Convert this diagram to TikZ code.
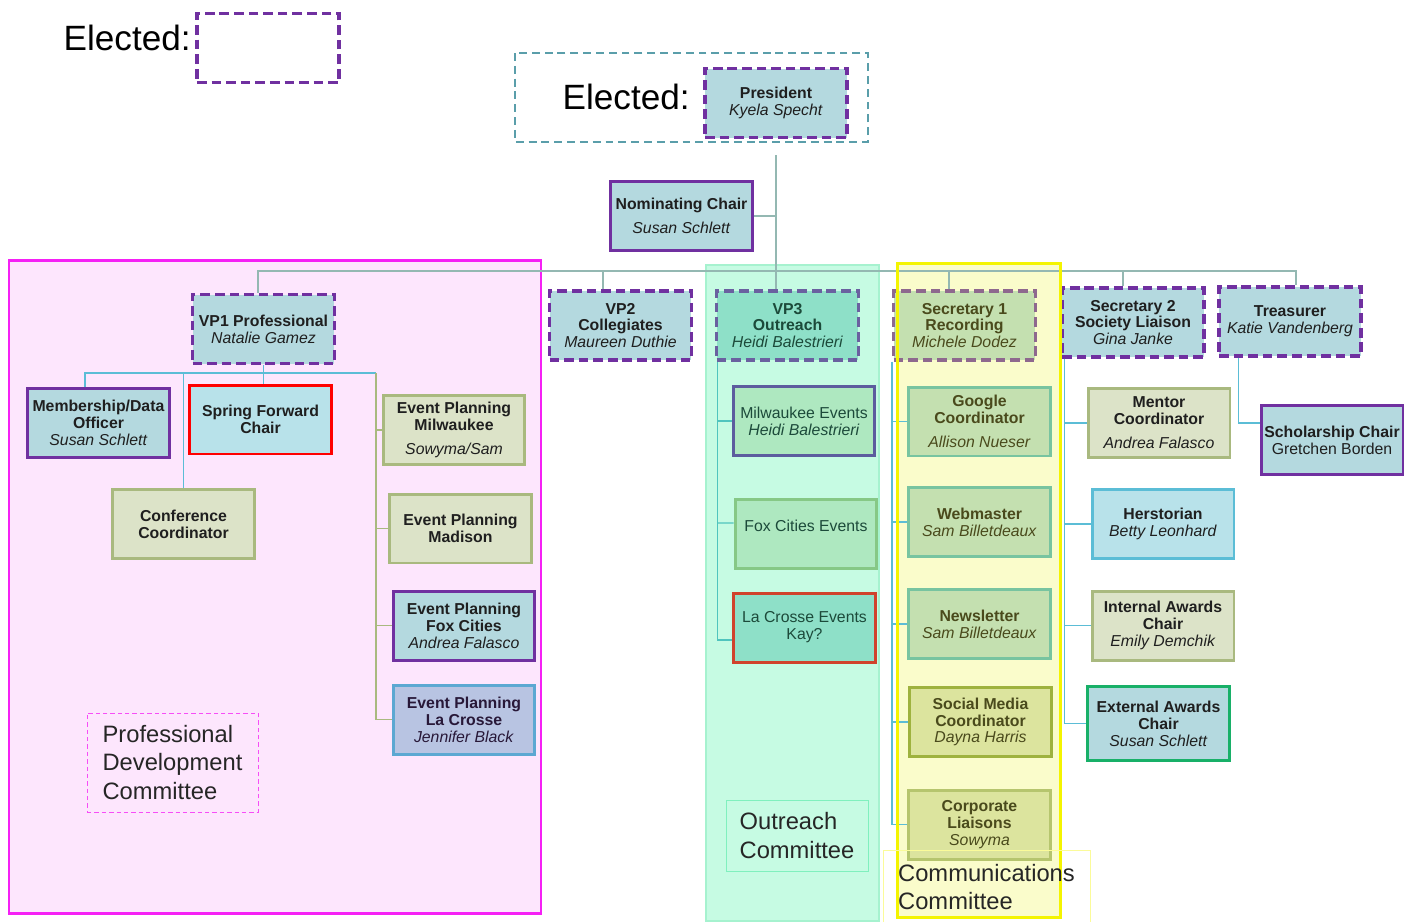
\documentclass[tikz,border=0pt]{standalone}
\usepackage{fontspec}
\setmainfont{Liberation Sans}
\definecolor{postblue}{HTML}{B4D9DF}
\definecolor{postpurple}{HTML}{7030A0}
\definecolor{paleblue}{HTML}{B8E2EA}
\definecolor{olivefill}{HTML}{DCE3C8}
\definecolor{oliveline}{HTML}{A9B97F}
\definecolor{pinkfill}{HTML}{FDE6FD}
\definecolor{pinkline}{HTML}{F520F5}
\definecolor{mintfill}{HTML}{C6FBE3}
\definecolor{mintline}{HTML}{A6F2CF}
\definecolor{lemonfill}{HTML}{FAFCCB}
\definecolor{lemonline}{HTML}{F4F400}
\definecolor{sagefill}{HTML}{C4E0B0}
\definecolor{sageline}{HTML}{78C4A0}
\definecolor{limefill}{HTML}{DCE49E}
\definecolor{limeline}{HTML}{9EB23E}
\definecolor{jadefill}{HTML}{8EE0C8}
\definecolor{leaffill}{HTML}{AEE8C0}
\definecolor{treeline}{HTML}{94B8B2}
\definecolor{skyline}{HTML}{5BBDD6}
\definecolor{darkolive}{HTML}{4A4A1C}
\definecolor{darkjade}{HTML}{1C4A3A}

\begin{document}
\begin{tikzpicture}[x=0.02cm, y=-0.02cm,
   post/.style={rectangle, draw=postpurple, line width=1.7pt, fill=postblue,
      minimum width=2.84cm, minimum height=1.38cm, inner sep=1pt, align=center,
      text=black!88, font=\fontsize{9}{9.6}\selectfont},
   elect/.style={post, line width=1.9pt, dash pattern=on 5.5pt off 2.8pt},
   olive/.style={post, draw=oliveline, fill=olivefill},
   sage/.style={post, draw=sageline, fill=sagefill, text=darkolive},
   committee/.style={align=left, font=\fontsize{13.5}{16.2}\selectfont, text=black!85},
   link/.style={draw=treeline, line width=0.8pt},
   bluelink/.style={draw=skyline, line width=0.8pt},
   olivelink/.style={draw=oliveline, line width=0.8pt},
   teallink/.style={draw={rgb,255:red,80;green,196;blue,190}, line width=0.8pt}]

         \useasboundingbox (0,0) rectangle (1411,921);

         % committee areas
         \draw[draw=pinkline, line width=1.7pt, fill=pinkfill] (9,260) rectangle (541,913);
         \draw[draw=mintline, line width=0.8pt, fill=mintfill] (706,265) rectangle (879,921);
         \fill[lemonfill] (897,263) rectangle (1060,917);

         % elected
         \node(el1) at (191,38) [anchor=east, inner sep=0, font=\fontsize{20}{24}\selectfont]{Elected:};
         \node(vacant) at (268,48) [elect, fill=white]{};
         \draw[draw={rgb,255:red,90;green,158;blue,170}, line width=0.6pt, dash pattern=on 4.5pt off 2.8pt] (515,53) rectangle (868,142);
         \node(el2) at (690,97) [anchor=east, inner sep=0, font=\fontsize{20}{24}\selectfont]{Elected:};
         \node(pres) at (776,103) [elect]{\textbf{President}\\\textit{Kyela Specht}};
         \node(nom) at (681.5,216) [post]{\textbf{Nominating Chair}\\[4pt]\textit{Susan Schlett}};

         \node(vp1) at (263.5,329) [elect]{\textbf{VP1 Professional}\\\textit{Natalie Gamez}};
         \node(vp2) at (620.5,325.5) [elect]{\textbf{VP2}\\\textbf{Collegiates}\\\textit{Maureen Duthie}};
         \node(vp3) at (787.5,325.5) [elect, draw={rgb,255:red,106;green,96;blue,160}, fill=jadefill, text=darkjade]{\textbf{VP3}\\\textbf{Outreach}\\\textit{Heidi Balestrieri}};
         \node(sec1) at (964.5,325.5) [elect, draw={rgb,255:red,142;green,104;blue,142}, fill=sagefill, text=darkolive]{\textbf{Secretary 1}\\\textbf{Recording}\\\textit{Michele Dodez}};
         \node(sec2) at (1133,322.5) [elect]{\textbf{Secretary 2}\\\textbf{Society Liaison}\\\textit{Gina Janke}};
         \node(treas) at (1290,321.5) [elect]{\textbf{Treasurer}\\\textit{Katie Vandenberg}};

         % professional development
         \node(memb) at (98.5,423) [post]{\textbf{Membership/Data}\\\textbf{Officer}\\\textit{Susan Schlett}};
         \node(sfc) at (260.5,419.5) [post, draw=red, fill=paleblue]{\textbf{Spring Forward}\\\textbf{Chair}};
         \node(conf) at (183.5,524) [olive]{\textbf{Conference}\\\textbf{Coordinator}};
         \node(epmke) at (454,430) [olive]{\textbf{Event Planning}\\\textbf{Milwaukee}\\[4pt]\textit{Sowyma/Sam}};
         \node(epmad) at (460.5,528.5) [olive]{\textbf{Event Planning}\\\textbf{Madison}};
         \node(epfox) at (464,625.5) [post]{\textbf{Event Planning}\\\textbf{Fox Cities}\\\textit{Andrea Falasco}};
         \node(eplax) at (464,719.5) [post, draw={rgb,255:red,92;green,168;blue,210}, fill={rgb,255:red,184;green,196;blue,226}, text={rgb,255:red,40;green,24;blue,56}]{\textbf{Event Planning}\\\textbf{La Crosse}\\\textit{Jennifer Black}};

         % outreach
         \node(mke) at (804,421) [post, draw={rgb,255:red,92;green,92;blue,158}, fill=leaffill, text=darkjade]{Milwaukee Events\\\textit{Heidi Balestrieri}};
         \node(fce) at (806,534) [post, draw={rgb,255:red,134;green,200;blue,134}, fill=leaffill, text=darkjade]{Fox Cities Events\\\mbox{}};
         \node(lce) at (804.5,627.5) [post, draw={rgb,255:red,208;green,66;blue,44}, fill=jadefill, text=darkjade]{La Crosse Events\\Kay?};

         % communications
         \node(goog) at (979.5,421.5) [sage]{\textbf{Google}\\\textbf{Coordinator}\\[4pt]\textit{Allison Nueser}};
         \node(web) at (979.5,522) [sage]{\textbf{Webmaster}\\\textit{Sam Billetdeaux}};
         \node(news) at (979.5,624) [sage]{\textbf{Newsletter}\\\textit{Sam Billetdeaux}};
         \node(social) at (980.5,722) [sage, draw=limeline, fill=limefill]{\textbf{Social Media}\\\textbf{Coordinator}\\\textit{Dayna Harris}};
         \node(corp) at (979.5,824.5) [sage, draw=limeline!75, fill=limefill]{\textbf{Corporate}\\\textbf{Liaisons}\\\textit{Sowyma}};

         \node(mentor) at (1159,423) [olive]{\textbf{Mentor}\\\textbf{Coordinator}\\[4pt]\textit{Andrea Falasco}};
         \node(herst) at (1163,524) [post, draw=skyline, fill=paleblue]{\textbf{Herstorian}\\\textit{Betty Leonhard}};
         \node(intaw) at (1163,625.5) [olive]{\textbf{Internal Awards}\\\textbf{Chair}\\\textit{Emily Demchik}};
         \node(ext) at (1158.5,723.5) [post, draw={rgb,255:red,24;green,176;blue,104}, minimum height=1.48cm]{\textbf{External Awards}\\\textbf{Chair}\\\textit{Susan Schlett}};
         \node(schol) at (1332,440) [post]{\textbf{Scholarship Chair}\\Gretchen Borden};

         % top tree
         \coordinate(bus) at (776,271);
         \draw[link] ([yshift=-0.32cm]pres.south) -- (pres.south |- vp3.north);
         \draw[link] (nom.east) -- (nom.east -| pres.south);
         \draw[link] ([xshift=-0.11cm]vp1.north) |- (bus) -| ([xshift=0.12cm]treas.north);
         \draw[link] ([xshift=-0.35cm]vp2.north) -- ++(0,-19);
         \draw[link] ([xshift=-0.31cm]sec1.north) -- ++(0,-19);
         \draw[link] ([xshift=-0.2cm]sec2.north) -- ++(0,-16);

         % vp1 branches
         \coordinate(pdhub) at (376,373);
         \draw[bluelink] ([xshift=-0.27cm]memb.north) |- (pdhub);
         \draw[bluelink] (vp1.south) -- (vp1.south |- sfc.north);
         \draw[bluelink] (conf.north) -- (conf.north |- pdhub);
         \draw[olivelink] (pdhub) |- (eplax.west);
         \foreach \n in {epmke, epmad, epfox}
            \draw[olivelink] (pdhub |- \n.west) -- (\n.west);

         % vp3 branches
         \coordinate(ospine) at ([xshift=0.05cm]vp3.south west);
         \draw[teallink] (ospine) |- ([yshift=-0.25cm]lce.west);
         \draw[teallink] (ospine |- mke.west) -- (mke.west);
         \draw[teallink] (ospine |- fce.west) ++(0,-11) -- ([yshift=0.22cm]fce.west);

         % secretary and treasurer branches
         \coordinate(cspine) at (sec1.south west);
         \draw[bluelink] (cspine) |- (corp.west);
         \foreach \n in {goog, web, news, social}
            \draw[bluelink] (cspine |- \n.west) -- (\n.west);
         \coordinate(sspine) at ([xshift=0.08cm]sec2.south west);
         \draw[bluelink] (sspine) |- (ext.west);
         \foreach \n in {mentor, herst, intaw}
            \draw[bluelink] (sspine |- \n.west) -- (\n.west);
         \coordinate(tspine) at ([xshift=0.42cm]treas.south west);
         \draw[bluelink] (tspine) |- ([yshift=0.34cm]schol.west);

         \draw[draw=lemonline, line width=1.7pt] (897,263) rectangle (1060,917);

         % committee names
         \node(pdc) at (172.5,762.5) [committee, draw=pinkline!80, line width=0.5pt, dash pattern=on 2.5pt off 1.7pt, minimum width=3.42cm, minimum height=1.98cm]{Professional\\Development\\Committee};
         \node(oc) at (797,835.5) [committee, draw={rgb,255:red,128;green,240;blue,190}, line width=0.5pt, minimum width=2.84cm, minimum height=1.42cm]{Outreach\\Committee};
         \node(cc) at (986.5,887) [committee, draw=lemonline!40, line width=0.5pt, minimum width=4.14cm, minimum height=1.48cm]{Communications\\Committee};

\end{tikzpicture}
\end{document}
